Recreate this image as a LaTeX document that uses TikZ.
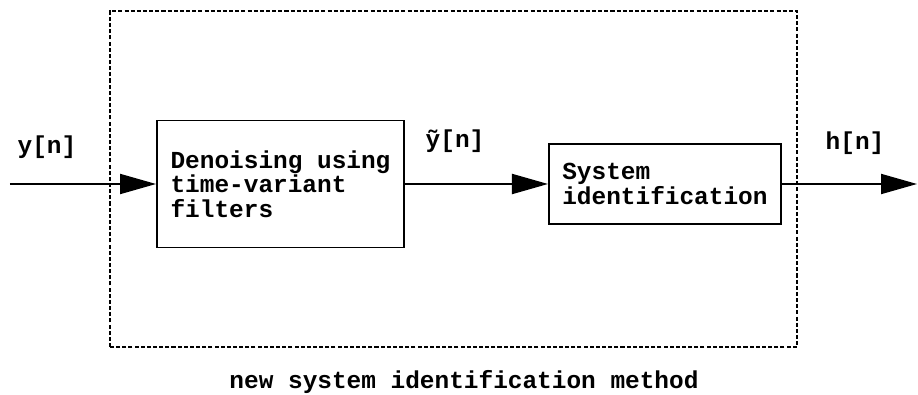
\documentclass[tikz,border=0pt]{standalone}
\usepackage{fontspec}
\setmonofont{Liberation Mono}[WordSpace={1,0,0}]
\usepackage{tikz}
\usetikzlibrary{arrows.meta,positioning}

\tikzset{
	block/.style={draw,line width=1.1pt,align=left,inner sep=0pt},
	sig/.style={line width=1.1pt,-{Triangle[length=0.72cm,width=0.4cm]}},
	lbl/.style={inner sep=0pt}
}

\begin{document}
\begin{tikzpicture}[font=\ttfamily\bfseries\fontsize{13.9}{13.9}\selectfont]
	\useasboundingbox (0,0) rectangle (18.36,7.88);
	
	% surrounding method box
	\draw[line width=1.2pt,dash pattern=on 2.3pt off 1.2pt] (2.2,0.94) rectangle (15.94,7.66);
	
	\node[block,minimum width=4.94cm,minimum height=2.54cm] (denoise) at (5.61,4.2) {Denoising using\\time-variant\\filters};
	\node[block,minimum width=4.64cm,minimum height=1.6cm,right=2.86cm of denoise] (sysid) {System\\identification};
	
	\coordinate (in) at (0.2,4.2);
	\coordinate (out) at (18.34,4.2);
	
	\draw[sig] (in) -- (denoise);
	\draw[sig] (denoise) -- (sysid);
	\draw[sig] (sysid) -- (out);
	
	\node[lbl] (ylbl) at (0.94,4.94) {y[n]};
	\node[lbl] (ytlbl) at (9.1,5.06) {\~y[n]};
	\node[lbl] (hlbl) at (17.1,5.02) {h[n]};
	
	\node[lbl] (caption) at (9.28,0.24) {new system identification method};
\end{tikzpicture}
\end{document}
